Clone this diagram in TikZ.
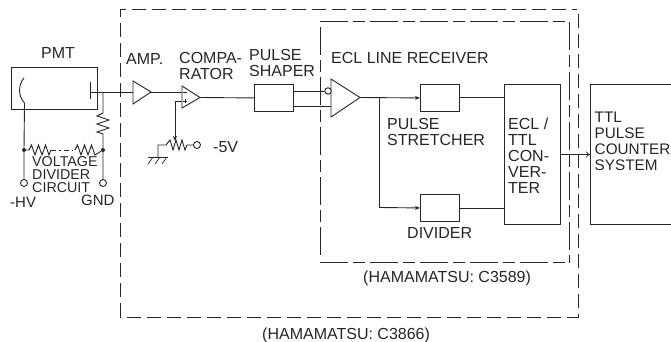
\documentclass[tikz,border=0pt]{standalone}
\usepackage{fontspec}
\setmainfont{Liberation Sans}
\usetikzlibrary{arrows.meta}
\tikzset{
  every picture/.style={x=1pt,y=-1pt},
  wire/.style={draw=black!85,line width=0.9pt},
  thin wire/.style={draw=black!85,line width=0.7pt},
  blockbox/.style={draw=black!85,line width=0.9pt,fill=white,minimum width=0pt,inner sep=0pt},
  amp/.style={draw=black!85,line width=0.9pt},
  term/.style={circle,draw=black!85,line width=0.9pt,fill=white,minimum size=7pt,inner sep=0pt},
  junction/.style={circle,fill=black!85,minimum size=4pt,inner sep=0pt},
  lab/.style={font=\fontsize{16}{16}\selectfont,text=black!85,inner sep=0pt,align=left,anchor=north west},
  smalllab/.style={lab,font=\fontsize{14.3}{13}\selectfont},
  midlab/.style={lab,font=\fontsize{15}{16}\selectfont},
  ttllab/.style={lab,font=\fontsize{15.3}{16}\selectfont},
  bound/.style={draw=black!85,line width=0.8pt,dash pattern=on 14pt off 6pt},
  innerbound/.style={draw=black!85,line width=0.8pt,dash pattern=on 28pt off 5pt on 12pt off 5pt},
  tip/.style={-{Stealth[length=5pt,width=4pt]}},
  open tip/.style={-{To[length=4pt,width=6pt]}}
}
\begin{document}
\begin{tikzpicture}
\useasboundingbox (0,0) rectangle (671,342);
% boundaries
\draw[bound] (120,317) -- (120,9) -- (577,9);
\draw[bound] (578,14) -- (578,317) -- (120,317);
\draw[innerbound] (320,21) -- (568,21);
\draw[innerbound] (320,27) -- (320,256);
\draw[innerbound] (320,262) -- (568,262);
\draw[innerbound] (569,22) -- (569,263);
% PMT
\node[blockbox,minimum width=86pt,minimum height=42pt] (pmt) at (54,88) {};
\coordinate (anode) at (90,91);
\draw[wire] (90,82) -- (90,99);
\draw[wire] (24,78) .. controls (18,85) and (18,96) .. (24.5,103);
% amp
\draw[amp] (133,81) -- (133,104) -- (151,92) -- cycle;
\coordinate (ampin) at (133,92);
\coordinate (ampout) at (151,92);
\draw[wire] (90,92) -- (ampin);
% divider
\node[junction] (jl) at (24,150) {};
\node[junction] (jr) at (103,150) {};
\node[term] (hv) at (24,183) {};
\node[term] (gnd) at (103,183) {};
\draw[wire] (24.5,103) -- (jl) -- (hv);
\draw[wire] (103,92) -- (103,113) -- (97,116) -- (109,120) -- (97,124) -- (109,128) -- (97,132) -- (103,134) -- (jr) -- (gnd);
\draw[wire] (jl) -- (29,150) -- ++(2.5,-5) -- ++(3.5,10) -- ++(3.5,-10) -- ++(3.5,10) -- ++(3.5,-10) -- ++(3.5,10) -- (51,150);
\draw[wire,dash pattern=on 5pt off 3pt on 1.5pt off 3pt] (51,150) -- (75,150);
\draw[wire] (75,150) -- ++(2.5,-5) -- ++(3.5,10) -- ++(3.5,-10) -- ++(3.5,10) -- ++(3.5,-10) -- ++(3.5,10) -- (jr);
% comparator
\draw[amp] (182,86) -- (182,108) -- (200,97.5) -- cycle;
\draw[wire] (ampout) -- (182,92);
\draw[thin wire] (183,92) -- (187,92);
\draw[thin wire] (183,101) -- (187,101) (185,99) -- (185,103);
\coordinate (wiper) at (175,141);
\draw[wire,tip] (182,101) -- (175,101) -- (wiper);
\node[term] (m5) at (197,145) {};
\draw[wire] (m5) -- (187,145) -- ++(-2,5) -- ++(-3,-10) -- ++(-3,10) -- ++(-3,-10) -- ++(-3,10) -- ++(-3,-10) -- (166,145) -- (158,145) -- (158,157);
\draw[wire] (148,157) -- (168,157);
\draw[thin wire] (153,157) -- (148,164) (160,157) -- (155,164) (167,157) -- (162,164);
% shaper
\node[blockbox,anchor=north west,minimum width=39pt,minimum height=27pt] (shaper) at (254,84) {};
\draw[wire] (200,97.5) -- (shaper.west);
% receiver
\draw[amp] (331,79) -- (331,117) -- (360,97.5) -- cycle;
\node[term,minimum size=6.5pt] (inv) at (328,91) {};
\draw[wire] (293,91) -- (inv);
\draw[wire] (293,106) -- (331,106);
% stretch / divider
\node[blockbox,anchor=north west,minimum width=39pt,minimum height=27pt] (stretch) at (420,84) {};
\node[blockbox,anchor=north west,minimum width=39pt,minimum height=27pt] (divid) at (420,194) {};
\node[blockbox,anchor=north west,minimum width=56pt,minimum height=140pt] (conv) at (504,84) {};
\node[blockbox,anchor=north west,minimum width=90pt,minimum height=140pt] (ttl) at (590,84) {};
\draw[wire,tip] (360,97.5) -- (stretch.west);
\draw[wire,tip] (379.5,97.5) -- (379.5,207.5) -- (divid.west);
\draw[wire] (stretch.east) -- (stretch.east -| conv.west);
\draw[wire] (divid.east) -- (divid.east -| conv.west);
\draw[thin wire,open tip] (conv.east) -- (conv.east -| ttl.west);
% labels
\node[lab] (t1) at (41,47) {PMT};
\node[lab] (t2) at (126,53) {AMP.};
\node[lab] (t3) at (179,52) {COMPA-\\RATOR};
\node[lab] (t4) at (249,49) {PULSE\\SHAPER};
\node[lab] (t5) at (331,52) {ECL LINE RECEIVER};
\node[lab] (t6) at (387,118) {PULSE\\STRETCHER};
\node[lab] (t7) at (407,227) {DIVIDER};
\node[lab] (t8) at (508,118) {ECL /\\TTL\\CON-\\VER-\\TER};
\node[ttllab] (t9) at (594.5,112) {TTL\\PULSE\\COUNTER\\SYSTEM};
\node[lab] (t10) at (213,141) {-5V};
\node[smalllab] (t11) at (32,156) {VOLTAGE\\DIVIDER\\CIRCUIT};
\node[midlab] (t12) at (10,197) {-HV};
\node[midlab] (t13) at (81,195) {GND};
\node[lab] (t14) at (363,271) {(HAMAMATSU: C3589)};
\node[lab] (t15) at (262,328) {(HAMAMATSU: C3866)};
\end{tikzpicture}
\end{document}
